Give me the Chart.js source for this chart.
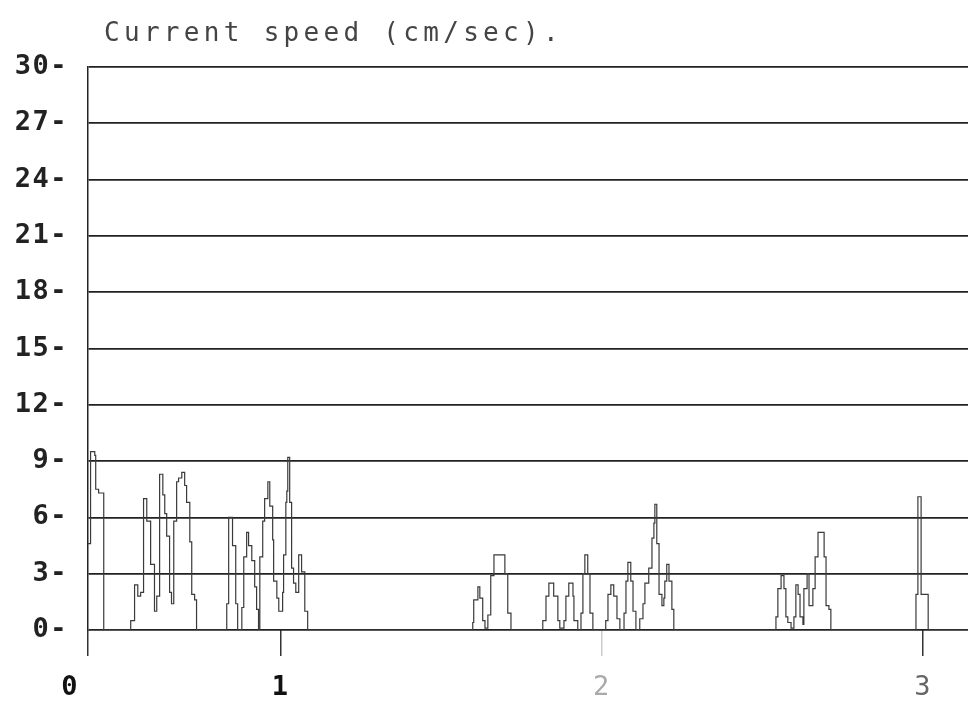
<!DOCTYPE html>
<html><head><meta charset="utf-8">
<script src="https://cdn.jsdelivr.net/npm/chart.js@4.4.0/dist/chart.umd.min.js"></script>
<style>html,body{margin:0;padding:0;background:#fff;} canvas{display:block;}</style>
</head><body>
<canvas id="c" width="968" height="707"></canvas>
<script>
const titleText = 'Current speed (cm/sec).';

// time (days) at which each step starts
const days = [
  0.400,0.408,0.421,0.424,0.433,0.449,
  0.533,0.545,0.555,0.564,0.573,0.583,0.595,0.607,0.614,0.623,0.633,0.639,0.645,0.654,0.660,0.667,0.676,0.682,0.692,0.701,0.707,0.717,0.723,0.732,0.738,
  0.832,0.838,0.850,0.860,0.866,0.879,0.885,0.894,0.900,0.910,0.919,0.925,0.931,0.935,0.944,0.950,0.960,0.966,0.975,0.978,0.988,0.994,1.006,1.009,1.016,1.019,1.022,1.028,1.034,1.040,1.047,1.056,1.065,1.075,1.084,
  1.598,1.601,1.614,1.620,1.629,1.636,1.645,1.654,1.664,1.698,1.707,1.717,
  1.816,1.826,1.835,1.850,1.863,1.869,1.882,1.888,1.897,1.910,1.913,1.925,1.935,1.941,1.947,1.956,1.963,1.972,
  2.012,2.019,2.028,2.037,2.047,2.056,2.069,2.075,2.081,2.090,2.097,2.106,2.118,2.128,2.134,2.146,2.156,2.162,2.165,2.171,2.178,2.187,2.193,2.196,2.202,2.209,2.218,2.224,
  2.542,2.548,2.558,2.567,2.573,2.579,2.589,2.598,2.604,2.611,2.617,2.626,2.629,2.639,2.645,2.657,2.664,2.673,2.692,2.698,2.707,2.713,
  2.978,2.984,2.994,3.003,3.016,3.140
];
// current speed (cm/sec) for each step
const speeds = [
  4.6,9.5,9.3,7.5,7.3,0,
  0.5,2.4,1.8,2.0,7.0,5.8,3.5,1.0,1.8,8.3,7.2,6.2,5.0,2.0,1.4,5.8,7.9,8.1,8.4,7.7,6.8,4.7,1.9,1.6,0,
  1.4,6.0,4.5,1.4,0,1.2,3.9,5.2,4.5,3.7,2.3,1.1,0,3.9,5.8,7.0,7.9,6.6,4.8,2.6,1.7,1.0,2.0,4.0,6.8,7.4,9.2,6.8,3.3,2.5,2.0,4.0,3.1,1.0,0,
  0.4,1.6,2.3,1.7,0.5,0.1,0.8,2.9,4.0,3.0,0.9,0,
  0.5,1.8,2.5,1.8,0.5,0.1,0.5,1.8,2.5,1.8,0.5,0,0.9,3.0,4.0,3.0,0.9,0,
  0.5,1.9,2.4,1.8,0.6,0,0.9,2.6,3.6,2.6,1.0,0,0.6,1.4,2.5,3.3,4.9,5.7,6.7,4.6,1.9,1.3,1.7,2.6,3.5,2.6,1.1,0,
  0.7,2.2,2.9,2.2,0.7,0.4,0.1,0.7,2.4,1.9,0.7,0.3,2.2,3.0,1.3,2.2,3.9,5.2,3.9,1.3,1.1,0,
  1.9,7.1,1.9,1.9,0,0
];

const yTickValues = [0,3,6,9,12,15,18,21,24,27,30];
const xTickValues = [0.40,1,2,3];
const xTickLabels = ['0  ','1','2','3'];

const MONO = '"DejaVu Sans Mono", "Liberation Mono", monospace';

const printerPlugin = {
  id: 'printer',
  beforeDraw(chart) { chart.ctx.letterSpacing = '1.5px'; },
  afterDraw(chart) {
    const ctx = chart.ctx;
    ctx.save();
    ctx.letterSpacing = '4.3px';
    ctx.font = '26px ' + MONO;
    ctx.fillStyle = '#444';
    ctx.textAlign = 'left';
    ctx.textBaseline = 'middle';
    ctx.fillText(titleText, 104, 34);
    ctx.restore();
    ctx.letterSpacing = '0px';
  }
};

new Chart(document.getElementById('c'), {
  type: 'line',
  data: {
    datasets: [{
      data: days.map((d, i) => ({x: d, y: speeds[i]})),
      stepped: true,
      borderColor: '#3a3a3a',
      borderWidth: 1.2,
      pointRadius: 0,
      fill: false
    }]
  },
  options: {
    responsive: false,
    animation: false,
    devicePixelRatio: 1,
    layout: {padding: {top: 67, right: 0, bottom: 0, left: 0}},
    plugins: {legend: {display: false}, tooltip: {enabled: false}, title: {display: false}},
    scales: {
      x: {
        type: 'linear',
        min: 0.40,
        max: 3.14,
        afterBuildTicks: s => { s.ticks = xTickValues.map(v => ({value: v})); },
        afterFit: s => { s.height = 77; },
        ticks: {
          autoSkip: false,
          maxRotation: 0,
          padding: 16,
          callback: (v, i) => xTickLabels[i],
          color: ctx => ['#111', '#111', '#aaa', '#666'][ctx.index],
          font: ctx => ({family: MONO, size: 27, weight: ctx.index < 2 ? 'bold' : 'normal'})
        },
        grid: {
          drawOnChartArea: false,
          drawTicks: true,
          tickLength: 26,
          lineWidth: 1.5,
          color: ctx => ctx.index === 2 ? '#ccc' : '#333'
        },
        border: {display: false}
      },
      y: {
        type: 'linear',
        min: 0,
        max: 30,
        afterBuildTicks: s => { s.ticks = yTickValues.map(v => ({value: v})); },
        afterFit: s => { s.width = 88; },
        ticks: {
          padding: 20,
          color: '#222',
          callback: v => v + '-',
          font: {family: MONO, size: 27, weight: 'bold'}
        },
        grid: {color: '#222', lineWidth: 1.7, drawTicks: false},
        border: {display: true, color: '#222', width: 1.5}
      }
    }
  },
  plugins: [printerPlugin]
});
</script>
</body></html>
